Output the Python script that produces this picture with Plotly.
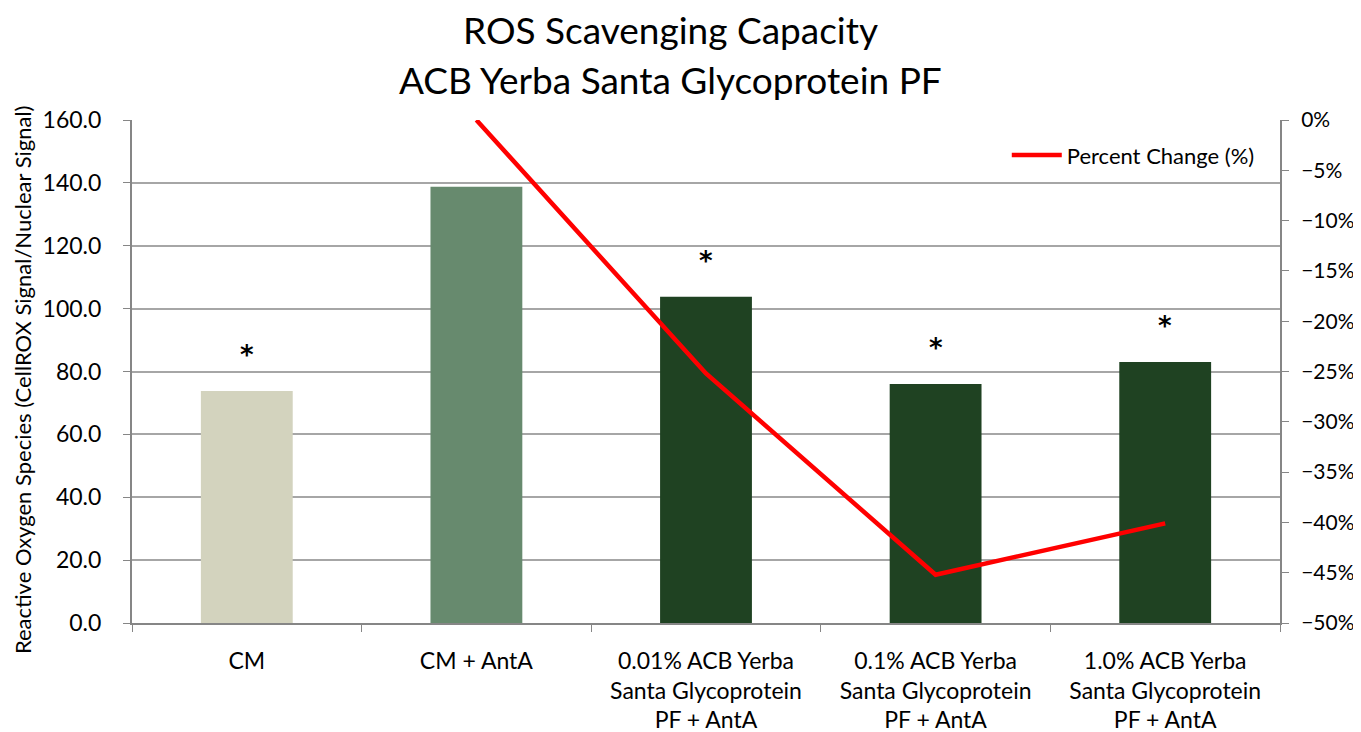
import plotly.graph_objects as go

categories = ["CM", "CM + AntA", "0.01% ACB Yerba<br>Santa Glycoprotein<br>PF + AntA",
              "0.1% ACB Yerba<br>Santa Glycoprotein<br>PF + AntA",
              "1.0% ACB Yerba<br>Santa Glycoprotein<br>PF + AntA"]
ros_values = [73.8, 138.8, 103.8, 76.0, 83.0]
pct_change = [None, 0.0, -25.2, -45.2, -40.1]
significance = ["*", "", "*", "*", "*"]
bar_colors = ["#D3D3BE", "#678A6E", "#1F4222", "#1F4222", "#1F4222"]
title_lines = ["ROS Scavenging Capacity", "ACB Yerba Santa Glycoprotein PF"]
y_title = "Reactive Oxygen Species (CellROX Signal/Nuclear Signal)"

FONT = "Lato, Open Sans, sans-serif"

fig = go.Figure()
fig.add_trace(go.Bar(x=categories, y=ros_values, marker_color=bar_colors,
                     marker_line_width=0, width=0.4, showlegend=False, yaxis="y"))
fig.add_trace(go.Scatter(x=categories, y=pct_change, mode="lines", name="Percent Change (%)",
                         line=dict(color="#FF0000", width=4.5), yaxis="y2", cliponaxis=False))

for c, v, s in zip(categories, ros_values, significance):
    if s:
        fig.add_annotation(x=c, y=v, text="<b>" + s + "</b>", showarrow=False, yref="y", xref="x",
                           yanchor="middle", yshift=36,
                           font=dict(family="DejaVu Sans", size=26, color="#000000"))

for txt, py in zip(title_lines, [1.1809, 1.0815]):
    fig.add_annotation(text=txt, xref="paper", yref="paper", x=0.4695, y=py,
                       xanchor="center", yanchor="middle", showarrow=False,
                       font=dict(family=FONT, size=37, color="#000000"))

fig.add_annotation(text=y_title, xref="paper", yref="paper", x=-0.0958, y=0.483,
                   xanchor="center", yanchor="middle", textangle=-90, showarrow=False,
                   font=dict(family=FONT, size=22, color="#000000"))

fig.update_layout(
    width=1353, height=724,
    paper_bgcolor="white", plot_bgcolor="white",
    margin=dict(l=124, r=81, t=112, b=109),
    font=dict(family=FONT, color="#000000"),
    bargap=0.6,
    xaxis=dict(type="category", showline=True, linecolor="#868686", linewidth=2,
               ticks="outside", tickson="boundaries", ticklen=7, tickcolor="#868686",
               ticklabelstandoff=16, automargin=False,
               tickfont=dict(size=23, family=FONT), showgrid=False),
    yaxis=dict(range=[0, 160], dtick=20, tickformat=".1f", showline=True,
               linecolor="#868686", linewidth=2, ticks="outside", ticklen=7,
               tickcolor="#868686", gridcolor="#A6A6A6", gridwidth=1.5,
               ticklabelstandoff=17, automargin=False,
               tickfont=dict(size=23, family=FONT), zeroline=False),
    yaxis2=dict(range=[-50, 0], dtick=5, ticksuffix="%", overlaying="y", side="right",
                showline=True, linecolor="#868686", linewidth=2, ticks="outside",
                ticklen=7, tickcolor="#868686", showgrid=False, zeroline=False,
                ticklabelstandoff=8, automargin=False,
                tickfont=dict(size=21, family=FONT)),
    legend=dict(x=0.762, y=0.93, xanchor="left", yanchor="middle", bgcolor="rgba(0,0,0,0)",
                itemwidth=50, font=dict(size=22, family=FONT)),
)

fig.write_html("out.html")
